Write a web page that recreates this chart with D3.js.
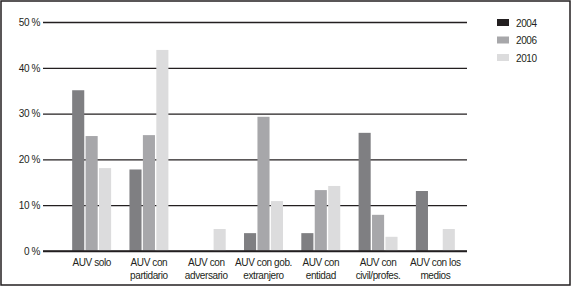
<!DOCTYPE html>
<html lang="es">
<head>
    <meta charset="UTF-8">
    <title>AUV</title>
    <script src="https://cdn.jsdelivr.net/npm/d3@7"></script>
    <style>
        body { margin: 0; background: #fff; }
        text { font-family: "Liberation Sans", Arial, sans-serif; fill: #231f20; }
    </style>
</head>
<body>
<script type="text/javascript">
    // categorias (dos lineas cada una)
    var categories = [
        ['AUV solo'],
        ['AUV con', 'partidario'],
        ['AUV con', 'adversario'],
        ['AUV con gob.', 'extranjero'],
        ['AUV con', 'entidad'],
        ['AUV con', 'civil/profes.'],
        ['AUV con los', 'medios']
    ];
    var years = ['2004', '2006', '2010'];
    var v2004 = [35.1, 17.8, 0, 3.9, 3.9, 25.8, 13.1];
    var v2006 = [25.1, 25.3, 0, 29.3, 13.3, 7.9, 0];
    var v2010 = [18.1, 43.9, 4.8, 10.9, 14.2, 3.1, 4.8];
    var yTicks = [0, 10, 20, 30, 40, 50];

    var series = [v2004, v2006, v2010];
    var barColors = ['#7f7f82', '#a7a7aa', '#dcdcdd'];
    var legendColors = ['#231f20', '#a7a7aa', '#dcdcdd'];

    var W = 572, H = 287;
    var svg = d3.select('body').append('svg')
            .attr('width', W)
            .attr('height', H);

    // marco
    svg.append('rect')
            .attr('x', 1).attr('y', 1)
            .attr('width', W - 3).attr('height', H - 3)
            .attr('fill', 'none')
            .attr('stroke', '#231f20')
            .attr('stroke-width', 1.5);

    var y = d3.scaleLinear().domain([0, 50]).range([251, 22]);
    var x0 = d3.scaleBand()
            .domain(d3.range(categories.length))
            .range([63, 464])
            .paddingInner(0.32)
            .paddingOuter(0.16);
    var x1 = d3.scaleBand()
            .domain(d3.range(years.length))
            .range([0, x0.bandwidth()])
            .paddingInner(0.1);

    // lineas de la grilla
    var yAxis = d3.axisLeft(y)
            .tickValues(yTicks)
            .tickSize(-(467 - 43))
            .tickPadding(4)
            .tickFormat(function (d) { return d + ' %'; });
    var ga = svg.append('g')
            .attr('transform', 'translate(43,0)')
            .call(yAxis);
    ga.select('.domain').remove();
    ga.selectAll('.tick line')
            .attr('stroke', '#231f20')
            .attr('stroke-width', 1.3);
    ga.selectAll('.tick text')
            .attr('x', -3)
            .style('font-size', '10px')
            .style('letter-spacing', '-0.4px')
            .attr('fill', '#231f20');

    // barras
    var groups = svg.append('g').selectAll('g')
            .data(categories)
            .enter()
            .append('g')
            .attr('transform', function (d, i) {
                return 'translate(' + x0(i) + ',0)';
            });
    groups.selectAll('rect')
            .data(function (d, i) {
                return series.map(function (s, k) { return {k: k, v: s[i]}; });
            })
            .enter()
            .append('rect')
            .filter(function (d) { return d.v > 0; })
            .attr('x', function (d) { return x1(d.k); })
            .attr('y', function (d) { return y(d.v); })
            .attr('width', x1.bandwidth())
            .attr('height', function (d) { return y(0) - y(d.v); })
            .attr('fill', function (d) { return barColors[d.k]; });

    // redibujar la linea base sobre las barras
    svg.append('line')
            .attr('x1', 43).attr('x2', 467)
            .attr('y1', y(0)).attr('y2', y(0))
            .attr('stroke', '#231f20')
            .attr('stroke-width', 1.3);

    // etiquetas de categorias
    var labels = svg.append('g').selectAll('text')
            .data(categories)
            .enter()
            .append('text')
            .attr('text-anchor', 'middle')
            .style('font-size', '10px')
            .style('letter-spacing', '-0.4px')
            .attr('transform', function (d, i) {
                return 'translate(' + (x0(i) + x0.bandwidth() / 2) + ',266)';
            });
    labels.selectAll('tspan')
            .data(function (d) { return d; })
            .enter()
            .append('tspan')
            .attr('x', 0)
            .attr('dy', function (d, i) { return i === 0 ? 0 : 12.5; })
            .text(function (d) { return d; });

    // leyenda
    var legend = svg.append('g').selectAll('g')
            .data(years)
            .enter()
            .append('g')
            .attr('transform', function (d, i) {
                return 'translate(497,' + (19 + i * 17.5) + ')';
            });
    legend.append('rect')
            .attr('width', 12)
            .attr('height', 7)
            .attr('fill', function (d, i) { return legendColors[i]; });
    legend.append('text')
            .attr('x', 19)
            .attr('y', 7.5)
            .style('font-size', '10px')
            .style('letter-spacing', '-0.4px')
            .text(function (d) { return d; });
</script>
</body>
</html>
